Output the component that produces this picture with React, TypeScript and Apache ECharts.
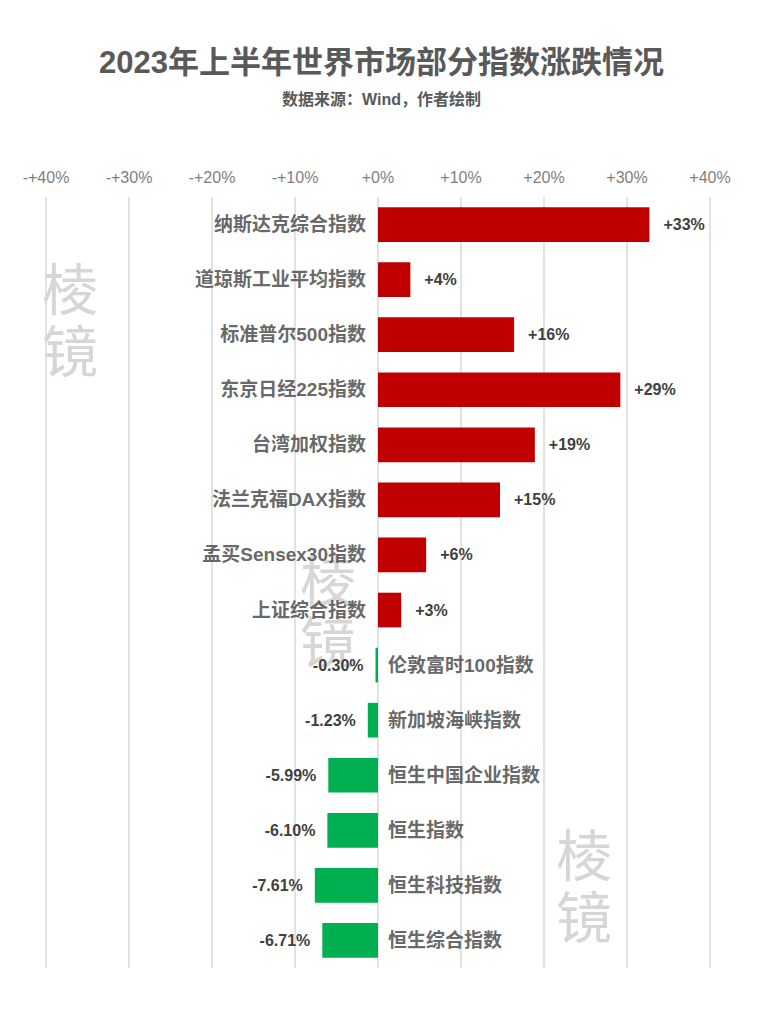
import React, { useEffect, useRef } from "react";
import * as echarts from "echarts";

const categories = [
  "纳斯达克综合指数",
  "道琼斯工业平均指数",
  "标准普尔500指数",
  "东京日经225指数",
  "台湾加权指数",
  "法兰克福DAX指数",
  "孟买Sensex30指数",
  "上证综合指数",
  "伦敦富时100指数",
  "新加坡海峡指数",
  "恒生中国企业指数",
  "恒生指数",
  "恒生科技指数",
  "恒生综合指数",
];
const values = [32.7, 3.9, 16.4, 29.2, 18.9, 14.7, 5.8, 2.8, -0.3, -1.23, -5.99, -6.1, -7.61, -6.71];
const valueLabels = ["+33%", "+4%", "+16%", "+29%", "+19%", "+15%", "+6%", "+3%", "-0.30%", "-1.23%", "-5.99%", "-6.10%", "-7.61%", "-6.71%"];
const tickValues = [-40, -30, -20, -10, 0, 10, 20, 30, 40];

const RED = "#c00000";
const GREEN = "#00b050";
const FONT = "'Liberation Sans', 'Noto Sans CJK SC', sans-serif";

export default function App() {
  const ref = useRef<HTMLDivElement>(null);
  useEffect(() => {
    if (!ref.current) return;
    const chart = echarts.init(ref.current, undefined, { renderer: "svg" });
    const wm = (x: number, y: number) => ({
      type: "text",
      left: x,
      top: y,
      z: -10,
      style: {
        text: "棱\n镜",
        fontSize: 56,
        lineHeight: 62,
        fill: "#d6d6d6",
        fontFamily: "'Noto Sans CJK SC', sans-serif",
      },
    });
    chart.setOption({
      animation: false,
      backgroundColor: "#ffffff",
      title: [
        {
          text: "2023年上半年世界市场部分指数涨跌情况",
          left: "center",
          top: 42,
          textStyle: { fontSize: 31, fontWeight: "bold", color: "#595959", fontFamily: FONT },
        },
        {
          text: "数据来源：Wind，作者绘制",
          left: "center",
          top: 86,
          textStyle: { fontSize: 16, fontWeight: "bold", color: "#595959", fontFamily: FONT },
        },
      ],
      graphic: [wm(42, 254), wm(300, 545), wm(556, 820)],
      grid: { left: 46, right: 53, top: 197, bottom: 56, containLabel: false },
      xAxis: {
        type: "value",
        position: "top",
        min: -40,
        max: 40,
        interval: 10,
        axisLine: { show: false },
        axisTick: { show: false },
        splitLine: { show: true, lineStyle: { color: "#d9d9d9", width: 1.5 } },
        axisLabel: {
          margin: 12,
          color: "#7f7f7f",
          fontSize: 16,
          fontFamily: "'Liberation Sans Narrow', 'Liberation Sans', sans-serif",
          formatter: (v: number) => (tickValues.includes(v) ? (v < 0 ? "-+" + -v + "%" : "+" + v + "%") : ""),
        },
      },
      yAxis: {
        type: "category",
        data: categories,
        inverse: true,
        axisLine: { show: false },
        axisTick: { show: false },
        axisLabel: { show: false },
      },
      series: [
        {
          type: "bar",
          barWidth: "63%",
          z: 3,
          data: values.map((v, i) => ({
            value: v,
            itemStyle: { color: v >= 0 ? RED : GREEN },
            label: {
              show: true,
              position: v >= 0 ? "right" : "left",
              distance: v >= 0 ? 14 : 12,
              formatter: valueLabels[i],
              color: "#404040",
              fontSize: 16,
              fontWeight: "bold",
              fontFamily: FONT,
            },
          })),
        },
        {
          type: "scatter",
          symbolSize: 0,
          z: 4,
          silent: true,
          data: categories.map((c, i) => ({
            value: [0, c],
            label: {
              show: true,
              position: values[i] >= 0 ? "left" : "right",
              distance: values[i] >= 0 ? 12 : 10,
              formatter: c,
              color: "#404040",
              fontSize: 19,
              fontWeight: "bold",
              fontFamily: FONT,
            },
          })),
        },
      ],
    });
    return () => chart.dispose();
  }, []);
  return (
    <div
      ref={ref}
      style={{ position: "absolute", left: 0, top: 0, width: 763, height: 1024 }}
    />
  );
}
